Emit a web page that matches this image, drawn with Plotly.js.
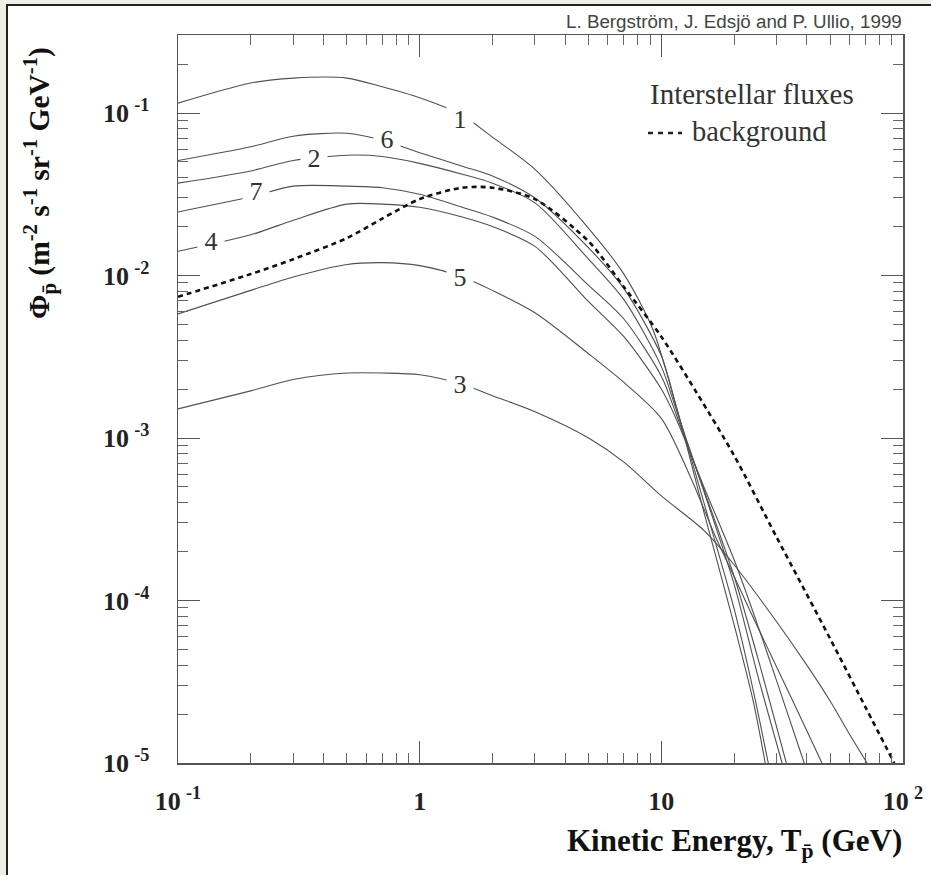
<!DOCTYPE html>
<html><head><meta charset="utf-8">
<script src="https://cdn.plot.ly/plotly-3.0.1.min.js"></script>
<style>
html,body{margin:0;padding:0;background:#edf0e4;width:931px;height:875px;overflow:hidden}
#frame{position:absolute;left:6px;top:4px;width:925px;height:871px;background:#fff;border-left:2px solid #222;border-top:2px solid #222;box-sizing:border-box}
#chart{position:absolute;left:0;top:0;width:931px;height:875px}
</style></head><body>
<div id="frame"></div>
<div id="chart"></div>
<script>
// ---- data ----
const energy1 = [0.1,0.2,0.3,0.5,0.7,1,1.5,2,3,5,7,9.2,11.5,15,20,24,26.9];
const flux1   = [0.115,0.153,0.164,0.164,0.145,0.124,0.097,0.071,0.045,0.0195,0.0102,0.0047,0.00158,3.5e-4,7.1e-5,2.4e-5,1.0e-5];

const energy6 = [0.1,0.2,0.3,0.5,0.7,1,1.5,2,3,5,7,10,11.5,15,20,24,27.7];
const flux6   = [0.051,0.062,0.072,0.075,0.068,0.057,0.047,0.041,0.030,0.0148,0.0083,0.0032,0.00158,4.0e-4,8.9e-5,2.8e-5,1.0e-5];

const energy2 = [0.1,0.2,0.3,0.5,0.7,1,1.5,2,3,5,7,10,11.5,15,20,25,31.6];
const flux2   = [0.037,0.044,0.051,0.055,0.054,0.049,0.042,0.037,0.028,0.0126,0.0071,0.00275,0.00151,4.7e-4,1.26e-4,3.5e-5,1.0e-5];

const energy7 = [0.1,0.2,0.3,0.5,0.7,1,1.5,2,3,5,7,10,11.5,15,20,25,32.9];
const flux7   = [0.0246,0.0305,0.0355,0.0355,0.0347,0.0316,0.0263,0.0229,0.0174,0.0087,0.0054,0.0024,0.00141,4.8e-4,1.41e-4,4.5e-5,1.0e-5];

const energy4 = [0.1,0.2,0.3,0.5,0.7,1,1.5,2,3,5,7,10,11.5,15,20,25,30,39];
const flux4   = [0.0141,0.0178,0.0219,0.0275,0.0275,0.0263,0.0229,0.020,0.0151,0.0069,0.0042,0.0020,0.00132,5.0e-4,1.78e-4,7.1e-5,3.2e-5,1.0e-5];

const energy5 = [0.1,0.2,0.3,0.5,0.7,1,1.5,2,3,5,7,10,13.1,16.9,20,25,30,40,46.2];
const flux5   = [0.0058,0.0081,0.0098,0.0117,0.0120,0.0115,0.0098,0.0081,0.0059,0.0033,0.0022,0.00132,5.9e-4,2.4e-4,1.41e-4,6.9e-5,3.9e-5,1.58e-5,1.0e-5];

const energy3 = [0.1,0.2,0.3,0.5,0.7,1,1.5,2,3,5,7,10,15,20,30,40,50,60,71];
const flux3   = [0.00151,0.00195,0.00229,0.00251,0.00251,0.00245,0.00214,0.00182,0.00145,0.0010,7.1e-4,4.4e-4,2.7e-4,1.66e-4,7.4e-5,4.0e-5,2.4e-5,1.51e-5,1.0e-5];

const energyBg = [0.1,0.2,0.3,0.5,0.7,1,1.5,2,3,5,7,10,14,20,30,50,70,92];
const fluxBg   = [0.0074,0.0102,0.0126,0.017,0.0224,0.0295,0.0347,0.0347,0.0295,0.0162,0.0085,0.0042,0.0019,7.8e-4,2.45e-4,5.8e-5,2.2e-5,1.0e-5];

const xTickVals = [0.1,1,10,100];
const xTickText = ['10\u2009<sup>-1</sup>','1','10','10\u2009<sup>2</sup>'];
const yTickVals = [1e-5,1e-4,1e-3,1e-2,1e-1];
const yTickText = ['10\u2009<sup>-5</sup>','10\u2009<sup>-4</sup>','10\u2009<sup>-3</sup>','10\u2009<sup>-2</sup>','10\u2009<sup>-1</sup>'];

const curveNames = ['1','6','2','7','4','5','3'];
const curveX = [energy1,energy6,energy2,energy7,energy4,energy5,energy3];
const curveY = [flux1,flux6,flux2,flux7,flux4,flux5,flux3];

// ---- traces ----
const traces = curveNames.map((n,i)=>({
  x: curveX[i], y: curveY[i], name: n, type:'scatter', mode:'lines',
  line:{color:'#505050', width:1.1, shape:'spline', smoothing:0.8},
  showlegend:false, hoverinfo:'skip'
}));
traces.push({
  x: energyBg, y: fluxBg, name:'background', type:'scatter', mode:'lines',
  line:{color:'#111', width:2.6, dash:'5px,4px', shape:'spline', smoothing:0.8},
  showlegend:false, hoverinfo:'skip'
});

// label positions (log10 coords)
const labelPos = {'1':[0.165,-1.04],'6':[-0.136,-1.166],'2':[-0.438,-1.28],'7':[-0.678,-1.485],'4':[-0.864,-1.79],'5':[0.165,-2.01],'3':[0.165,-2.67]};
const serif = 'Liberation Serif, Times New Roman, serif';
const annotations = curveNames.map(n=>({
  x: labelPos[n][0], y: labelPos[n][1], xref:'x', yref:'y',
  text:'\u00a0'+n+'\u00a0', showarrow:false, bgcolor:'#fff', borderpad:0,
  font:{family:serif, size:26, color:'#333'}, xanchor:'center', yanchor:'middle'
}));

const W=931,H=875,L=178,R=28,T=35,B=112;
const pw=W-L-R, ph=H-T-B;
const px=v=>(v-L)/pw, py=v=>(H-B-v)/ph;

annotations.push(
  {xref:'paper',yref:'paper',x:px(40),y:py(183),textangle:-90,showarrow:false,xanchor:'center',yanchor:'middle',
   text:'\u03A6<sub>p\u0304</sub> (m<sup>-2</sup> s<sup>-1</sup> sr<sup>-1</sup> GeV<sup>-1</sup>)',
   font:{family:serif,size:29.5,color:'#111',weight:'bold'}},
  {xref:'paper',yref:'paper',x:px(904),y:py(843),showarrow:false,xanchor:'right',yanchor:'middle',
   text:'Kinetic Energy, T<sub>p\u0304</sub> (GeV)',
   font:{family:serif,size:31,color:'#111',weight:'bold'}},
  {xref:'paper',yref:'paper',x:px(904),y:py(21),showarrow:false,xanchor:'right',yanchor:'middle',
   text:'L. Bergstr\u00f6m, J. Edsj\u00f6 and P. Ullio, 1999',
   font:{family:'Liberation Sans, Arial, sans-serif',size:18.8,color:'#444'}},
  {xref:'paper',yref:'paper',x:px(648),y:py(94),showarrow:false,xanchor:'left',yanchor:'middle',
   text:'Interstellar fluxes', font:{family:serif,size:29,color:'#333'}},
  {xref:'paper',yref:'paper',x:px(690),y:py(131),showarrow:false,xanchor:'left',yanchor:'middle',
   text:'background', font:{family:serif,size:28.5,color:'#333'}}
);

const shapes = [
  {type:'line',xref:'paper',yref:'paper',x0:px(648),x1:px(682),y0:py(133),y1:py(133),
   line:{color:'#222',width:2.6,dash:'5px,5px'}}
];

const axisCommon = {
  type:'log', showgrid:false, zeroline:false, showline:true, linecolor:'#555', linewidth:1.5,
  mirror:'ticks', ticks:'inside', ticklen:22, tickwidth:1, tickcolor:'#555',
  tickmode:'array', tickfont:{family:serif,size:26,color:'#222',weight:'bold'},
  minor:{dtick:'D1', ticks:'inside', ticklen:10, tickwidth:1, tickcolor:'#666', showgrid:false}
};

const layout = {
  width:W, height:H, margin:{l:L,r:R,t:T,b:B,pad:0},
  paper_bgcolor:'rgba(0,0,0,0)', plot_bgcolor:'rgba(0,0,0,0)',
  xaxis:Object.assign({}, axisCommon, {range:[-1,2], tickvals:xTickVals, ticktext:xTickText, ticklabelstandoff:14}),
  yaxis:Object.assign({}, axisCommon, {range:[-5,-0.52], tickvals:yTickVals, ticktext:yTickText, ticklabelstandoff:22}),
  annotations: annotations, shapes: shapes, showlegend:false
};

Plotly.newPlot('chart', traces, layout, {staticPlot:true, displayModeBar:false});
</script></body></html>
